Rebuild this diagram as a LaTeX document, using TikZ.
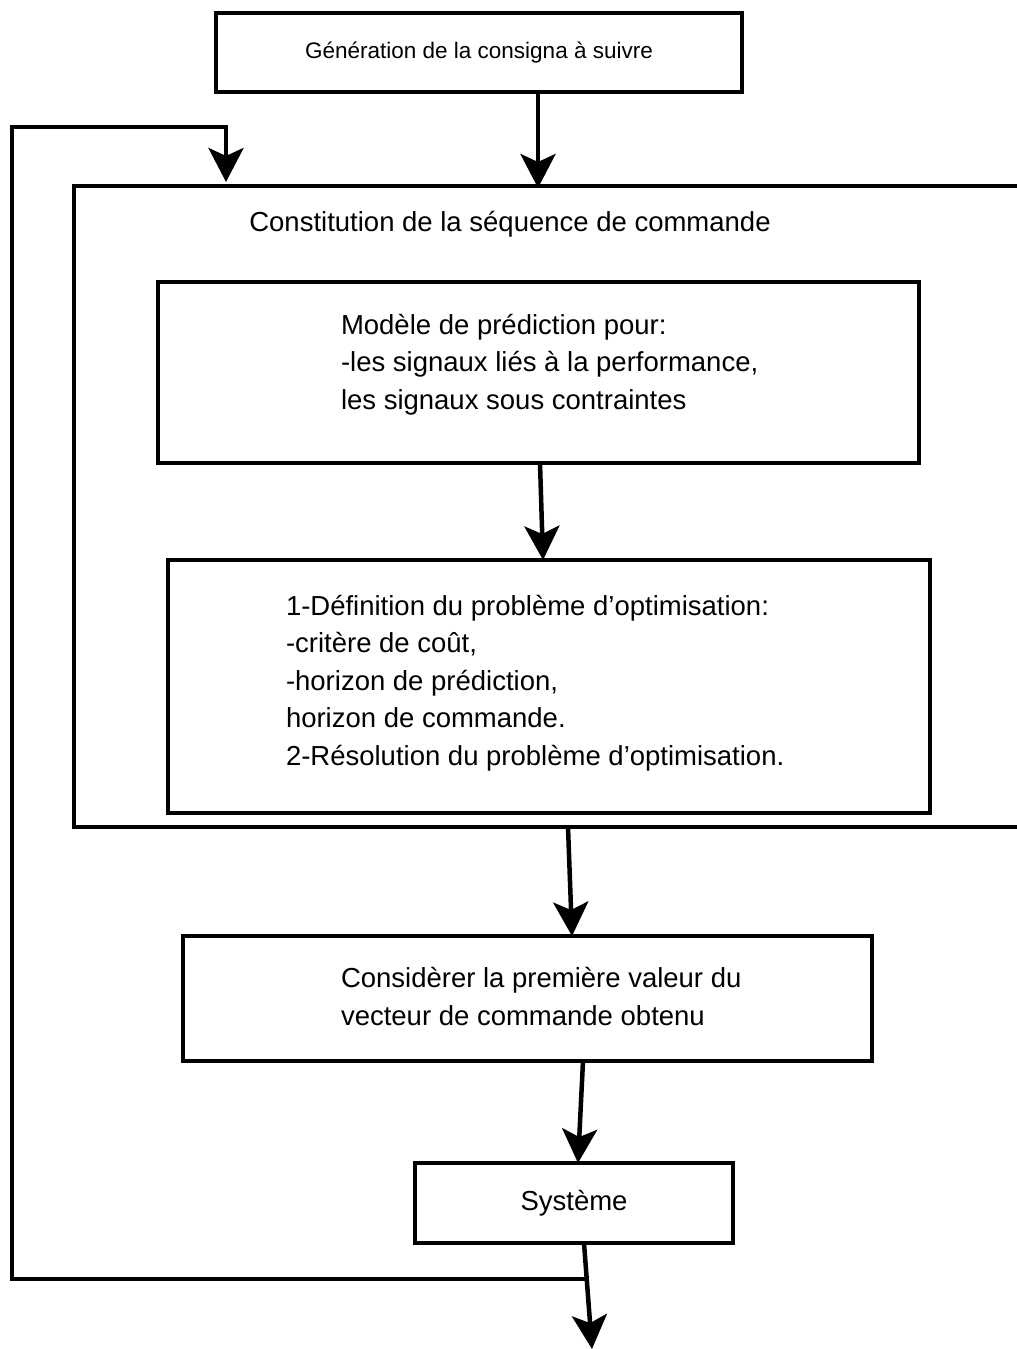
\documentclass[tikz,border=0pt]{standalone}
\usepackage{fontspec}
\setmainfont{Liberation Sans}
\usetikzlibrary{arrows.meta,calc}
\begin{document}
\begin{tikzpicture}[x=1pt,y=-1pt,
  line width=4.5pt,
  every node/.style={inner sep=0pt,outer sep=0pt},
  txt/.style={font=\fontsize{27.5}{37.5}\selectfont,align=left},
  box/.style={draw,rectangle},
  flow/.style={-{Stealth[length=34pt,width=35pt,inset=8pt]},line cap=butt}]
\useasboundingbox (0,0) rectangle (1017,1349);

% process boxes
\node[box,minimum width=526pt,minimum height=79pt,font=\fontsize{22.5}{27}\selectfont] (gen) at (479,52.5) {Génération de la consigna à suivre};
\node[box,minimum width=761pt,minimum height=181pt] (model) at (538.5,372.5) {};
\node[box,minimum width=762pt,minimum height=253pt] (optim) at (549,686.5) {};
\node[box,minimum width=689pt,minimum height=125pt] (first) at (527.5,998.5) {};
\node[box,minimum width=318pt,minimum height=80pt,font=\fontsize{27.5}{33}\selectfont] (sys) at (574,1203) {Système};

% box texts (anchored on the baseline of their last line)
\node[txt,anchor=base west] (modeltxt) at (341,409) {Modèle de prédiction pour:\\-les signaux liés à la performance,\\les signaux sous contraintes};
\node[txt,anchor=base west] (optimtxt) at (286,765) {1-Définition du problème d’optimisation:\\-critère de coût,\\-horizon de prédiction,\\horizon de commande.\\2-Résolution du problème d’optimisation.};
\node[txt,anchor=base west] (firsttxt) at (341,1025) {Considèrer la première valeur du\\vecteur de commande obtenu};

% open frame around the command-sequence stage
\coordinate (ftopR) at (1017,186);
\coordinate (ftopL) at (74,186);
\coordinate (fbotL) at (74,827);
\coordinate (fbotR) at (1017,827);
\draw[line join=miter] (ftopR) -- (ftopL) -- (fbotL) -- (fbotR);
\node[txt,anchor=center] (frametitle) at (510,224) {Constitution de la séquence de commande};

% flow arrows
\coordinate (ingen) at (538,188);
\draw[flow] (gen.south -| ingen) -- (ingen);
\draw[flow] ([xshift=1.5pt]model.south) -- ([xshift=-6pt]optim.north);
\coordinate (fout) at (568,827);
\draw[flow] (fout) -- ([xshift=44.5pt]first.north);
\draw[flow] ([xshift=55.5pt]first.south) -- ([xshift=4pt]sys.north);
\coordinate (out) at (592,1349);
\draw[flow] ([xshift=10pt]sys.south) -- (out);

% feedback loop
\coordinate (tap) at (587,1279);
\coordinate (fbin) at (226,182);
\draw[flow,line join=miter] (tap) -- (12,1279) -- (12,127) -- (226,127) -- (fbin);
\end{tikzpicture}
\end{document}
